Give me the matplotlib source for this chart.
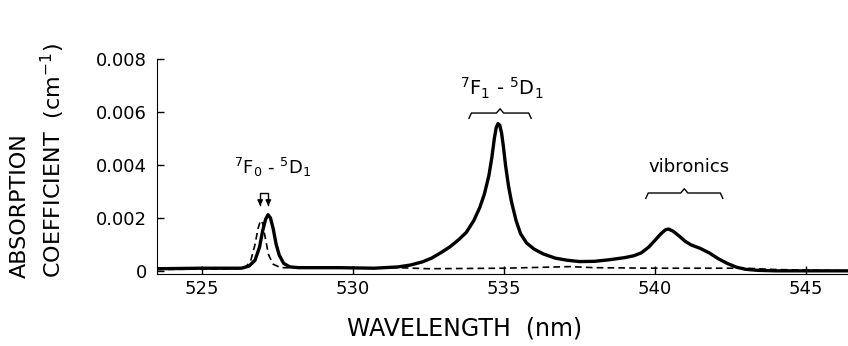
import matplotlib
matplotlib.use("Agg")
import matplotlib.pyplot as plt
import numpy as np

# --- data (nm, cm^-1) ---
solid_nm = [523.5, 525.0, 526.3, 526.55, 526.75, 526.9, 527.0, 527.1, 527.18, 527.26,
            527.35, 527.45, 527.55, 527.7, 527.9, 528.2, 529.5, 530.7, 531.5, 531.9,
            532.3, 532.6, 532.9, 533.2, 533.5, 533.75, 534.0, 534.2, 534.35, 534.5,
            534.6, 534.68, 534.74, 534.8, 534.86, 534.92, 534.98, 535.05, 535.15, 535.25,
            535.4, 535.55, 535.75, 536.0, 536.3, 536.7, 537.1, 537.5, 538.0, 538.5,
            539.0, 539.3, 539.55, 539.8, 540.0, 540.2, 540.35, 540.45, 540.6, 540.8,
            541.0, 541.2, 541.5, 541.8, 542.1, 542.4, 542.7, 543.0, 543.4, 544.0,
            545.0, 546.4]
solid_abs = [0.00008, 0.0001, 0.0001, 0.00018, 0.0004, 0.0009, 0.0015, 0.00195, 0.00212, 0.002,
             0.0016, 0.001, 0.0006, 0.00028, 0.00015, 0.00012, 0.00012, 0.0001, 0.00015, 0.00022,
             0.00034, 0.00048, 0.00068, 0.0009, 0.00118, 0.00145, 0.0019, 0.0024, 0.0029, 0.0036,
             0.0043, 0.005, 0.0054, 0.00556, 0.0055, 0.0052, 0.0047, 0.004, 0.0032, 0.0026,
             0.0019, 0.0014, 0.00105, 0.00082, 0.00064, 0.00048, 0.0004, 0.00035, 0.00036, 0.00042,
             0.0005, 0.00057, 0.00068, 0.0009, 0.00115, 0.0014, 0.00155, 0.00158, 0.0015, 0.00132,
             0.00112, 0.00098, 0.00085, 0.00068, 0.00046, 0.00028, 0.00014, 0.00006, 0.00002, 0.0,
             0.0, 0.0]

dash_nm = [523.5, 526.0, 526.4, 526.6, 526.75, 526.85, 526.93, 527.0, 527.08, 527.2,
           527.35, 527.6, 530.0, 531.5, 532.5, 535.0, 537.2, 538.0, 540.0, 543.0,
           544.0, 546.4]
dash_abs = [0.00005, 0.00008, 0.0001, 0.00035, 0.001, 0.0016, 0.0019, 0.0018, 0.0013, 0.0006,
            0.00025, 0.00012, 0.0001, 0.00012, 0.00008, 0.0001, 0.00016, 0.00012, 0.0001, 0.0001,
            0.00005, 0.0]

xticks = [525, 530, 535, 540, 545]
yticks = [0, 0.002, 0.004, 0.006, 0.008]
ytick_labels = ["0", "0.002", "0.004", "0.006", "0.008"]


def brace(ax, x0, x1, y, h):
    # curly bracket opening downwards, drawn in data coords
    xm = (x0 + x1) / 2
    xs = [x0, x0 + 0.08, xm - 0.12, xm, xm + 0.12, x1 - 0.08, x1]
    ys = [y - h, y, y, y + h * 0.8, y, y, y - h]
    ax.plot(xs, ys, color="black", lw=1.0, clip_on=False)


fig = plt.figure(figsize=(8.48, 3.46), dpi=100)
ax = fig.add_axes([0.1851, 0.208, 0.8149, 0.6214])

ax.plot(solid_nm, solid_abs, color="black", lw=2.4, solid_joinstyle="round")
ax.plot(dash_nm, dash_abs, color="black", lw=1.2, ls=(0, (4, 2.5)))

ax.set_xlim(523.5, 546.4)
ax.set_ylim(-0.00012, 0.008)
ax.set_xticks(xticks)
ax.set_yticks(yticks)
ax.set_yticklabels(ytick_labels)
ax.tick_params(axis="x", direction="in", length=6, width=1, labelsize=13, pad=4)
ax.tick_params(axis="y", direction="in", length=5, width=1, labelsize=13, pad=7)
for s in ["top", "right"]:
    ax.spines[s].set_visible(False)
ax.spines["left"].set_bounds(-0.00012, 0.008)

# annotations
ax.text(527.32, 0.00389, r"$^7$F$_0$ - $^5$D$_1$", ha="center", va="center", fontsize=13)
ax.plot([526.92, 526.92, 527.19, 527.19], [0.0025, 0.00294, 0.00294, 0.0025], color="black", lw=1.0)
for xa in [526.92, 527.19]:
    ax.annotate("", xy=(xa, 0.00235), xytext=(xa, 0.0027),
                arrowprops=dict(arrowstyle="-|>", color="black", lw=1.0, mutation_scale=8))

ax.text(534.93, 0.0069, r"$^7$F$_1$ - $^5$D$_1$", ha="center", va="center", fontsize=14)
brace(ax, 533.84, 535.9, 0.00596, 0.0002)

ax.text(541.13, 0.00392, "vibronics", ha="center", va="center", fontsize=13)
brace(ax, 539.7, 542.25, 0.00294, 0.0002)

# axis titles
fig.text(0.0236, 0.1965, "ABSORPTION", rotation=90, ha="center", va="bottom", fontsize=16)
fig.text(0.0625, 0.1965, r"COEFFICIENT  (cm$^{-1}$)", rotation=90, ha="center", va="bottom", fontsize=16)
fig.text(0.548, 0.052, "WAVELENGTH  (nm)", ha="center", va="center", fontsize=17)

fig.savefig("out.png", dpi=100)
